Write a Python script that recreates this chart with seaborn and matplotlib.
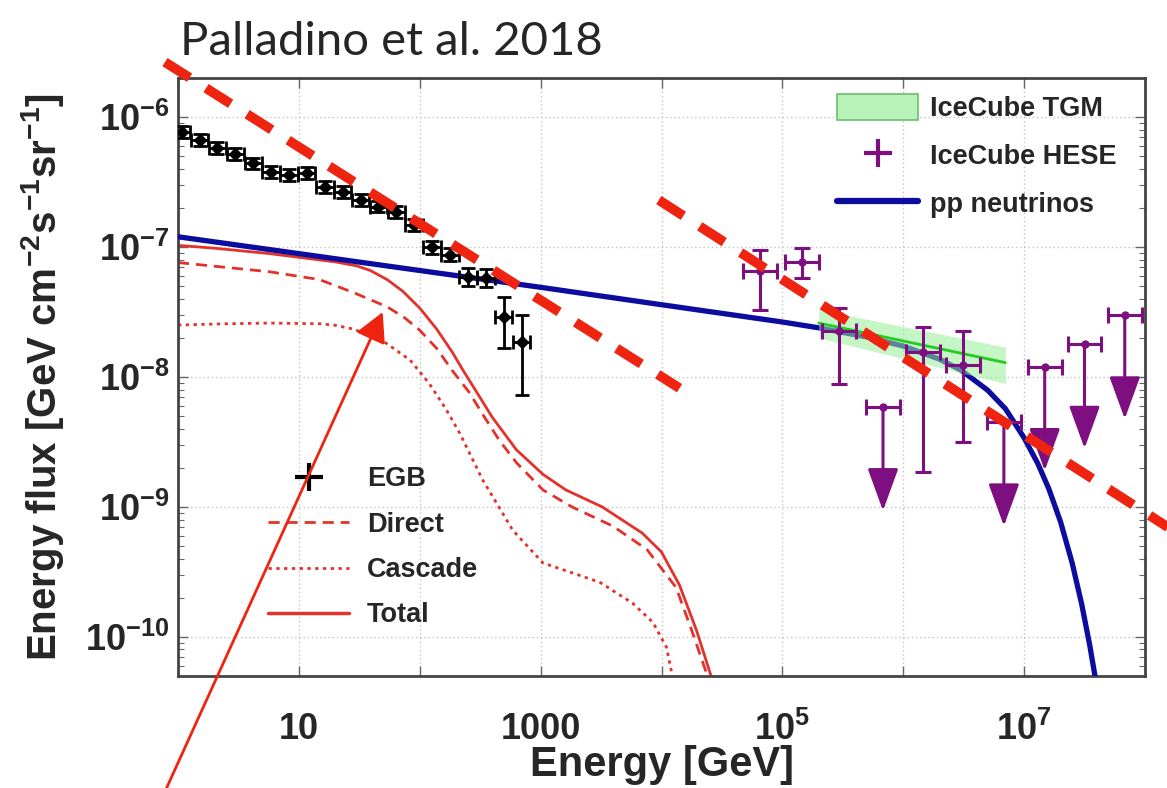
import numpy as np
import matplotlib
matplotlib.use("Agg")
import matplotlib.pyplot as plt
import seaborn as sns
from matplotlib.lines import Line2D
from matplotlib.patches import Patch

# ---------------- data ----------------
# Fermi-LAT extragalactic gamma-ray background (EGB)
egb_E = [1.07, 1.51, 2.12, 2.98, 4.19, 5.89, 8.28, 11.6, 16.4, 23.0,
         32.4, 45.5, 64.0, 89.9, 126, 178, 250, 352, 494, 695]
egb_F = [7.7e-7, 6.65e-7, 5.8e-7, 5.2e-7, 4.4e-7, 3.8e-7, 3.6e-7, 3.7e-7, 2.9e-7, 2.65e-7,
         2.3e-7, 2.05e-7, 1.86e-7, 1.48e-7, 1.0e-7, 8.7e-8, 5.9e-8, 5.8e-8, 2.9e-8, 1.86e-8]
egb_err_lo_dex = [0.045, 0.045, 0.045, 0.045, 0.045, 0.045, 0.045, 0.045, 0.045, 0.045,
                  0.045, 0.045, 0.045, 0.045, 0.05, 0.05, 0.07, 0.07, 0.24, 0.41]
egb_err_hi_dex = [0.045, 0.045, 0.045, 0.045, 0.045, 0.045, 0.045, 0.045, 0.045, 0.045,
                  0.045, 0.045, 0.045, 0.045, 0.05, 0.05, 0.07, 0.07, 0.15, 0.21]
egb_bin_half_dex = 0.072

# IceCube HESE
hese_E = [6.5e4, 1.45e5, 2.95e5, 6.8e5, 1.45e6, 3.1e6, 6.8e6, 1.48e7, 3.16e7, 6.8e7]
hese_F = [6.5e-8, 7.7e-8, 2.25e-8, 5.9e-9, 1.55e-8, 1.23e-8, 4.5e-9, 1.2e-8, 1.78e-8, 3.0e-8]
hese_F_lo = [3.3e-8, 5.75e-8, 8.9e-9, np.nan, 1.86e-9, 3.16e-9, np.nan, np.nan, np.nan, np.nan]
hese_F_hi = [9.5e-8, 9.8e-8, 3.4e-8, np.nan, 2.43e-8, 2.24e-8, np.nan, np.nan, np.nan, np.nan]
hese_upper_limit = [False, False, False, True, False, False, True, True, True, True]
hese_bin_half_dex = 0.14
hese_limit_arrow_dex = 0.8

# IceCube through-going muons (TGM) best fit and band
tgm_E = [2.0e5, 7.0e6]
tgm_F = [2.6e-8, 1.29e-8]
tgm_F_lo = [2.0e-8, 8.9e-9]
tgm_F_hi = [3.3e-8, 1.7e-8]

# pp neutrino model
pp_E = [1, 10, 100, 1e3, 1e4, 1e5, 2e5, 5e5, 1e6, 2e6, 3e6, 5e6, 7e6, 1e7,
        1.3e7, 1.6e7, 2e7, 2.5e7, 3e7, 3.5e7, 4e7]
pp_F = [1.2e-7, 8.9e-8, 6.6e-8, 4.9e-8, 3.6e-8, 2.65e-8, 2.39e-8, 2.03e-8, 1.73e-8,
        1.37e-8, 1.13e-8, 7.9e-9, 5.7e-9, 3.4e-9, 2.15e-9, 1.38e-9, 7.7e-10,
        3.69e-10, 1.77e-10, 8.5e-11, 4.1e-11]

# gamma-ray components
total_E = [1, 2, 5.75, 20.4, 30.2, 38.9, 53.7, 72.4, 100, 138, 186, 229, 302, 398,
           631, 1047, 1622, 3236, 6918, 1.0e4, 1.41e4, 1.95e4, 2.57e4]
total_F = [1.03e-7, 9.8e-8, 8.9e-8, 7.67e-8, 7.16e-8, 6.61e-8, 5.62e-8, 4.57e-8,
           3.39e-8, 2.34e-8, 1.55e-8, 1.12e-8, 7.41e-9, 4.9e-9, 2.75e-9, 1.78e-9,
           1.35e-9, 1.0e-9, 6.3e-10, 4.5e-10, 2.5e-10, 1.12e-10, 5.0e-11]
direct_E = [1, 5.75, 14.8, 28.2, 53.7, 74.1, 100, 138, 186, 257, 339, 457, 631,
            1047, 1820, 3981, 7586, 1.32e4, 1.78e4, 2.4e4]
direct_F = [7.6e-8, 6.45e-8, 5.62e-8, 4.47e-8, 3.47e-8, 2.88e-8, 2.29e-8, 1.66e-8,
            1.12e-8, 7.6e-9, 5.0e-9, 3.24e-9, 2.19e-9, 1.35e-9, 1.0e-9, 7.1e-10,
            4.7e-10, 2.4e-10, 1.12e-10, 5.0e-11]
cascade_E = [1, 2.51, 5.75, 14.8, 20.0, 28.2, 49, 83.2, 120, 166, 214, 331, 589,
             1047, 1738, 3090, 5754, 8511, 1.1e4, 1.23e4]
cascade_F = [2.51e-8, 2.57e-8, 2.6e-8, 2.57e-8, 2.5e-8, 2.34e-8, 1.91e-8, 1.35e-8,
             8.9e-9, 5.6e-9, 3.7e-9, 1.62e-9, 6.6e-10, 3.7e-10, 3.16e-10, 2.63e-10,
             1.82e-10, 1.29e-10, 8.3e-11, 5.0e-11]

# slope guides
guide1_E = [0.78, 1.41e4]
guide1_F = [2.65e-6, 8.2e-9]
guide2_E = [9.5e3, 1.58e8]
guide2_F = [2.3e-7, 6.9e-10]

# pointer arrow target
pointer_E = 49.4
pointer_F = 3.16e-8

xtick_pos = [1, 10, 100, 1e3, 1e4, 1e5, 1e6, 1e7, 1e8]
xtick_labels = ["", "10", "", "1000", "", "$10^{5}$", "", "$10^{7}$", ""]
ytick_pos = [1e-10, 1e-9, 1e-8, 1e-7, 1e-6]
ytick_labels = ["$10^{-10}$", "$10^{-9}$", "$10^{-8}$", "$10^{-7}$", "$10^{-6}$"]

# ---------------- style ----------------
RED = "#e3322b"
BLUE = "#0c0c9e"
PURPLE = "#7e0f80"
GUIDE = "#ee2410"

sns.set_theme(style="ticks")
plt.rcParams["font.family"] = ["Liberation Sans", "DejaVu Sans"]
plt.rcParams["font.weight"] = "bold"
plt.rcParams["mathtext.fontset"] = "custom"
plt.rcParams["mathtext.rm"] = "Liberation Sans:bold"
plt.rcParams["mathtext.bf"] = "Liberation Sans:bold"
plt.rcParams["mathtext.default"] = "bf"

W, H = 1167, 788
fig = plt.figure(figsize=(W / 100, H / 100), dpi=100)
ax = fig.add_axes([178 / W, 1 - 676 / H, (1145 - 178) / W, (676 - 78) / H])
ax.set_xscale("log")
ax.set_yscale("log")
ax.set_xlim(1, 1e8)
ax.set_ylim(5e-11, 2e-6)

ax.grid(True, which="major", linestyle=(0, (1, 2)), color="#c4c4c4", lw=1.0)
ax.set_axisbelow(True)

# model curves
sns.lineplot(x=cascade_E, y=cascade_F, ax=ax, color=RED, lw=2.0,
             linestyle=(0, (1.2, 1.6)), zorder=2)
sns.lineplot(x=direct_E, y=direct_F, ax=ax, color=RED, lw=2.0,
             linestyle=(0, (4, 2.5)), zorder=2)
sns.lineplot(x=total_E, y=total_F, ax=ax, color=RED, lw=2.0, zorder=2)
sns.lineplot(x=pp_E, y=pp_F, ax=ax, color=BLUE, lw=3.8, zorder=3)

# TGM band and best fit
ax.fill_between(tgm_E, tgm_F_lo, tgm_F_hi, color="#98ee98", alpha=0.55, lw=0, zorder=4)
sns.lineplot(x=tgm_E, y=tgm_F, ax=ax, color="#22cc22", lw=2.0, zorder=4)

# EGB points
egb_E_a = np.array(egb_E)
egb_F_a = np.array(egb_F)
xe = [egb_E_a - egb_E_a / 10 ** egb_bin_half_dex, egb_E_a * 10 ** egb_bin_half_dex - egb_E_a]
ye = [egb_F_a - egb_F_a / 10 ** np.array(egb_err_lo_dex),
      egb_F_a * 10 ** np.array(egb_err_hi_dex) - egb_F_a]
ax.errorbar(egb_E_a, egb_F_a, xerr=xe, yerr=ye, fmt="D", color="black", ms=6,
            elinewidth=2.0, capsize=5, capthick=2.0, zorder=6)

# HESE points
hE = np.array(hese_E)
hF = np.array(hese_F)
ul = np.array(hese_upper_limit)
hxe = [hE - hE / 10 ** hese_bin_half_dex, hE * 10 ** hese_bin_half_dex - hE]
det = ~ul
ax.errorbar(hE[det], hF[det],
            xerr=[hxe[0][det], hxe[1][det]],
            yerr=[hF[det] - np.array(hese_F_lo)[det], np.array(hese_F_hi)[det] - hF[det]],
            fmt="o", color=PURPLE, ms=5, elinewidth=2.2, capsize=6, capthick=2.2, zorder=7)
ax.errorbar(hE[ul], hF[ul], xerr=[hxe[0][ul], hxe[1][ul]], fmt="o", color=PURPLE,
            ms=5, elinewidth=2.2, capsize=6, capthick=2.2, zorder=7)
for e, f in zip(hE[ul], hF[ul]):
    ax.annotate("", xy=(e, f / 10 ** hese_limit_arrow_dex), xytext=(e, f),
                arrowprops=dict(arrowstyle="-|>,head_length=1.1,head_width=0.4",
                                color=PURPLE, lw=2.2, shrinkA=0, shrinkB=0,
                                mutation_scale=24), zorder=7)

# slope guides
for gx, gy in ((guide1_E, guide1_F), (guide2_E, guide2_F)):
    ax.plot(gx, gy, color=GUIDE, lw=7, linestyle=(0, (3, 2)), solid_capstyle="butt",
            dash_capstyle="butt", clip_on=False, zorder=9)

# pointer arrow
ax.annotate("", xy=(pointer_E, pointer_F), xycoords="data",
            xytext=(163 / W, -0.01), textcoords="figure fraction",
            arrowprops=dict(arrowstyle="-|>,head_length=0.6,head_width=0.32",
                            color=GUIDE, lw=2.0, shrinkA=0, shrinkB=0, mutation_scale=30),
            annotation_clip=False, zorder=9)

# axes and ticks
ax.set_xticks(xtick_pos, labels=xtick_labels)
ax.xaxis.set_minor_locator(matplotlib.ticker.NullLocator())
ax.set_yticks(ytick_pos, labels=ytick_labels)
ax.yaxis.set_minor_locator(matplotlib.ticker.LogLocator(subs=np.arange(2, 10)))
ax.yaxis.set_minor_formatter(matplotlib.ticker.NullFormatter())
ax.tick_params(which="both", direction="in", top=True, right=True, color="#666666")
ax.tick_params(which="major", length=7, width=1.0, labelsize=26)
ax.tick_params(which="minor", length=4, width=0.8)
ax.tick_params(axis="x", pad=26)
ax.tick_params(axis="y", pad=6)
for s in ax.spines.values():
    s.set_color("#444444")
    s.set_linewidth(2.0)

ax.set_xlabel("Energy [GeV]", fontsize=30, fontweight="bold", va="baseline")
ax.xaxis.set_label_coords(0.5, (676 - 776) / (676 - 78))
ax.set_ylabel("Energy flux [GeV cm$^{-2}$s$^{-1}$sr$^{-1}$]", fontsize=29,
              fontweight="bold", labelpad=14)

# legends
h1 = [Patch(facecolor="#b8f2b8", edgecolor="#6abf6a", lw=1.2),
      Line2D([], [], color=PURPLE, marker="+", ms=20, mew=3, ls="none"),
      Line2D([], [], color=BLUE, lw=4.5)]
leg1 = ax.legend(h1, ["IceCube TGM", "IceCube HESE", "pp neutrinos"],
                 loc="upper left", bbox_to_anchor=(837 / W, 1 - 94 / H),
                 bbox_transform=fig.transFigure, frameon=False,
                 prop={"size": 19.5, "weight": "bold"}, handlelength=3.0,
                 handleheight=1.1, handletextpad=0.45, labelspacing=0.72,
                 borderpad=0, borderaxespad=0)
ax.add_artist(leg1)
h2 = [Line2D([], [], color="black", marker="+", ms=20, mew=3, ls="none"),
      Line2D([], [], color=RED, lw=2.0, linestyle=(0, (4, 2.5))),
      Line2D([], [], color=RED, lw=2.0, linestyle=(0, (1.2, 1.6))),
      Line2D([], [], color=RED, lw=2.5)]
ax.legend(h2, ["EGB", "Direct", "Cascade", "Total"],
          loc="upper left", bbox_to_anchor=(268 / W, 1 - 466 / H),
          bbox_transform=fig.transFigure, frameon=False,
          prop={"size": 19.5, "weight": "bold"}, handlelength=3.0,
          handletextpad=0.65, labelspacing=0.72, borderpad=0, borderaxespad=0)

fig.text(180 / W, 1 - 55 / H, "Palladino et al. 2018", fontsize=34,
         family=["Lato", "DejaVu Sans"], fontweight="normal", va="baseline", ha="left")

fig.savefig("out.png", dpi=100)
